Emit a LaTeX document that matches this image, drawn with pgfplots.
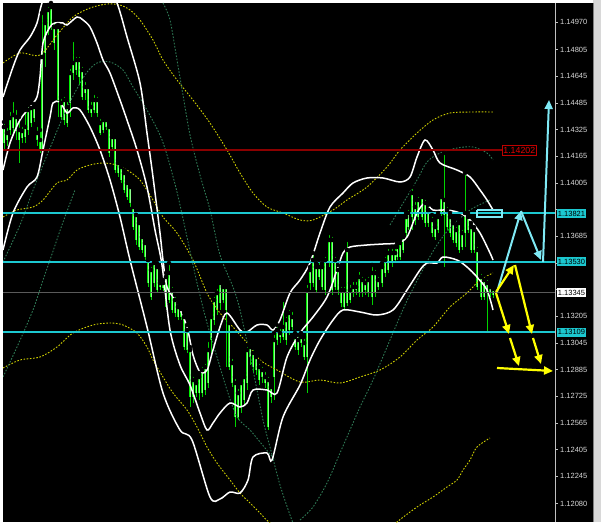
\documentclass[border=0pt]{standalone}
\usepackage{pgfplots}
\pgfplotsset{compat=1.18}
\usepackage{pgfplotstable}
\usepackage{fontspec}
\setmainfont{Liberation Sans}
\usetikzlibrary{arrows.meta}
\definecolor{cyanl}{HTML}{1CC8D0}
\definecolor{arrcyan}{HTML}{7FE9F5}
\definecolor{yel}{HTML}{FFFF00}
\definecolor{dotyel}{HTML}{D0D000}
\definecolor{dotgreen}{HTML}{2F7A55}
\definecolor{redl}{HTML}{8B0000}
\definecolor{redbox}{HTML}{C00000}
\definecolor{grayl}{HTML}{5A5A5A}
\definecolor{axisgray}{HTML}{C0C0C0}
\definecolor{labgray}{HTML}{D8D8D8}
\definecolor{wickc}{HTML}{00D400}
\definecolor{bodyc}{HTML}{00EE00}
\definecolor{bodyin}{HTML}{8CFF8C}
\definecolor{panel}{HTML}{D8D8D8}

\pgfplotstableread{
x h t b l
4 1.14370 1.14340 1.14244 1.14202
7 1.14346 1.14304 1.14262 1.14226
10 1.14442 1.14394 1.14322 1.14292
13 1.14502 1.14412 1.14334 1.14304
16 1.14454 1.14400 1.14316 1.14262
19 1.14400 1.14322 1.14262 1.14124
22 1.14352 1.14316 1.14274 1.14244
25 1.14442 1.14340 1.14280 1.14244
28 1.14472 1.14442 1.14322 1.14292
31 1.14484 1.14454 1.14364 1.14340
34 1.14478 1.14460 1.14394 1.14370
37 1.14352 1.14304 1.14262 1.14226
40 1.14322 1.14262 1.14202 1.14184
42 1.15024 1.14760 1.14202 1.14190
45 1.14982 1.14964 1.14784 1.14700
48 1.15072 1.15042 1.14922 1.14892
51 1.15084 1.15060 1.14940 1.14922
54 1.14982 1.14940 1.14844 1.14802
58 1.14952 1.14940 1.14502 1.14400
61 1.14520 1.14484 1.14400 1.14382
64 1.14532 1.14502 1.14382 1.14352
67 1.14502 1.14460 1.14364 1.14340
70 1.14700 1.14664 1.14484 1.14400
73 1.14862 1.14724 1.14664 1.14622
76 1.14772 1.14742 1.14682 1.14652
79 1.14772 1.14742 1.14640 1.14592
82 1.14712 1.14682 1.14520 1.14502
85 1.14622 1.14580 1.14544 1.14502
88 1.14604 1.14580 1.14442 1.14424
91 1.14502 1.14460 1.14424 1.14400
94 1.14544 1.14502 1.14442 1.14424
97 1.14532 1.14502 1.14424 1.14400
100 1.14400 1.14364 1.14304 1.14292
103 1.14406 1.14382 1.14322 1.14304
106 1.14400 1.14382 1.14340 1.14322
109 1.14364 1.14340 1.14184 1.14160
112 1.14304 1.14280 1.14220 1.14202
115 1.14304 1.14280 1.14082 1.14064
118 1.14142 1.14124 1.14064 1.14040
121 1.14124 1.14100 1.14022 1.14004
124 1.14082 1.14064 1.13962 1.13944
127 1.14022 1.14004 1.13920 1.13902
130 1.14004 1.13980 1.13884 1.13860
133 1.13884 1.13860 1.13740 1.13722
136 1.13842 1.13812 1.13662 1.13632
139 1.13782 1.13764 1.13620 1.13602
142 1.13704 1.13680 1.13602 1.13584
145 1.13662 1.13644 1.13560 1.13542
148 1.13560 1.13542 1.13404 1.13380
151 1.13512 1.13482 1.13320 1.13302
154 1.13542 1.13524 1.13404 1.13380
157 1.13524 1.13500 1.13362 1.13344
160 1.13422 1.13404 1.13380 1.13362
163 1.13422 1.13404 1.13374 1.13356
166 1.13464 1.13440 1.13260 1.13242
169 1.13524 1.13464 1.13302 1.13284
172 1.13392 1.13362 1.13242 1.13224
175 1.13332 1.13302 1.13224 1.13200
178 1.13284 1.13260 1.13200 1.13182
181 1.13272 1.13248 1.13200 1.13182
184 1.13224 1.13200 1.13020 1.13002
187 1.13152 1.13122 1.13002 1.12984
190 1.13020 1.13002 1.12720 1.12660
193 1.12852 1.12822 1.12720 1.12684
196 1.12822 1.12804 1.12744 1.12720
199 1.12864 1.12840 1.12744 1.12702
202 1.12912 1.12882 1.12744 1.12720
205 1.12930 1.12900 1.12762 1.12732
208 1.13062 1.13002 1.12804 1.12774
211 1.13224 1.13200 1.13062 1.12972
214 1.13332 1.13302 1.13182 1.13152
217 1.13380 1.13344 1.13242 1.13212
220 1.13422 1.13404 1.13284 1.13242
223 1.13404 1.13380 1.13302 1.13284
226 1.13404 1.13380 1.13242 1.12900
229 1.13182 1.13164 1.12900 1.12882
232 1.12960 1.12924 1.12804 1.12780
235 1.12840 1.12804 1.12600 1.12540
238 1.12780 1.12744 1.12600 1.12582
241 1.12822 1.12804 1.12660 1.12624
244 1.12864 1.12840 1.12702 1.12672
247 1.13032 1.13002 1.12804 1.12762
250 1.13044 1.13020 1.12960 1.12912
253 1.13014 1.12984 1.12900 1.12870
256 1.12984 1.12960 1.12882 1.12852
259 1.12930 1.12900 1.12822 1.12792
262 1.12912 1.12882 1.12840 1.12804
265 1.12882 1.12840 1.12804 1.12774
268 1.12852 1.12822 1.12540 1.12522
271 1.12804 1.12780 1.12720 1.12684
274 1.13104 1.13062 1.12840 1.12702
277 1.13152 1.13122 1.13062 1.13032
280 1.13140 1.13104 1.13080 1.13044
283 1.13302 1.13140 1.13080 1.13062
286 1.13212 1.13182 1.13062 1.13032
289 1.13254 1.13224 1.13122 1.13092
292 1.13242 1.13200 1.13140 1.13122
295 1.13104 1.13080 1.13020 1.13002
298 1.13092 1.13062 1.13002 1.12972
301 1.13104 1.13080 1.13044 1.13020
304 1.13080 1.13044 1.12960 1.12942
307 1.13404 1.13362 1.12960 1.12744
310 1.13500 1.13482 1.13404 1.13362
313 1.13584 1.13542 1.13404 1.13380
316 1.13524 1.13500 1.13362 1.13344
319 1.13542 1.13500 1.13440 1.13422
322 1.13524 1.13500 1.13380 1.13362
325 1.13572 1.13542 1.13362 1.13332
329 1.13704 1.13662 1.13524 1.13500
332 1.13692 1.13662 1.13362 1.13332
335 1.13572 1.13542 1.13380 1.13362
338 1.13512 1.13482 1.13362 1.13332
341 1.13392 1.13362 1.13284 1.13260
344 1.13392 1.13362 1.13260 1.13242
347 1.13662 1.13602 1.13284 1.13266
350 1.13404 1.13362 1.13302 1.13284
353 1.13422 1.13380 1.13344 1.13320
356 1.13422 1.13380 1.13362 1.13332
359 1.13482 1.13440 1.13344 1.13320
362 1.13452 1.13422 1.13344 1.13320
365 1.13440 1.13404 1.13362 1.13332
368 1.13452 1.13422 1.13344 1.13320
372 1.13512 1.13464 1.13320 1.13272
375 1.13494 1.13464 1.13344 1.13320
378 1.13452 1.13422 1.13380 1.13362
382 1.13524 1.13500 1.13404 1.13380
385 1.13572 1.13542 1.13464 1.13440
388 1.13620 1.13584 1.13482 1.13464
392 1.13620 1.13584 1.13524 1.13500
395 1.13620 1.13584 1.13542 1.13524
397 1.13644 1.13620 1.13560 1.13542
400 1.13662 1.13644 1.13560 1.13542
403 1.13704 1.13680 1.13602 1.13584
406 1.13824 1.13800 1.13704 1.13680
408 1.13854 1.13824 1.13740 1.13722
412 1.13980 1.13944 1.13800 1.13722
415 1.13902 1.13860 1.13782 1.13752
418 1.13932 1.13902 1.13800 1.13782
422 1.13944 1.13920 1.13800 1.13782
425 1.13914 1.13884 1.13764 1.13740
428 1.13872 1.13842 1.13764 1.13740
432 1.13812 1.13782 1.13704 1.13680
435 1.13764 1.13740 1.13680 1.13662
438 1.13824 1.13800 1.13722 1.13704
441 1.13944 1.13920 1.13824 1.13806
444 1.14184 1.13902 1.13812 1.13500
447 1.13872 1.13842 1.13740 1.13722
450 1.13824 1.13800 1.13704 1.13680
453 1.13782 1.13764 1.13662 1.13644
456 1.13752 1.13722 1.13644 1.13620
459 1.13782 1.13764 1.13602 1.13584
462 1.13734 1.13704 1.13620 1.13602
465 1.14064 1.13824 1.13704 1.13620
468 1.13824 1.13800 1.13722 1.13704
471 1.13764 1.13740 1.13602 1.13584
474 1.13740 1.13722 1.13602 1.13584
477 1.13632 1.13602 1.13380 1.13362
481 1.13470 1.13440 1.13320 1.13302
484 1.13452 1.13422 1.13320 1.13302
487 1.13434 1.13404 1.13344 1.13104
490 1.13404 1.13380 1.13344 1.13320
493 1.13392 1.13368 1.13332 1.13314
}\candles

\begin{document}
\begin{tikzpicture}[x=1pt,y=1pt]
\useasboundingbox (-3,-3) rectangle (598,522);
\fill[white] (-3,-3) rectangle (598,522);
\fill[black] (0,0) rectangle (590,519);
\fill[panel] (590,0) rectangle (598,522);
\draw[gray, line width=1pt] (590.5,0) -- (590.5,519);
\begin{axis}[
  at={(0,0)}, anchor=south west,
  scale only axis, width=552pt, height=519pt,
  xmin=3, xmax=555, ymin=1.11970, ymax=1.15084,
  axis background/.style={fill=black},
  axis x line=none, axis y line=right,
  y axis line style={draw=axisgray, line width=0.8pt, -},
  scaled y ticks=false,
  ytick={1.12080,1.12245,1.12405,1.12565,1.12725,1.12885,1.13045,1.13205,1.13365,1.13525,1.13685,1.13845,1.14005,1.14165,1.14325,1.14485,1.14645,1.14805,1.14970},
  yticklabels={1.12080,1.12245,1.12405,1.12565,1.12725,1.12885,1.13045,1.13205,{},{},1.13685,{},1.14005,1.14165,1.14325,1.14485,1.14645,1.14805,1.14970},
  tick style={draw=axisgray, line width=0.6pt},
  major tick length=3pt, tick align=outside,
  yticklabel style={font=\fontsize{7.5}{9}\selectfont, text=labgray, inner sep=0pt, xshift=2pt, anchor=west},
]
% candles: wicks
\addplot[only marks, mark=none, forget plot,
  error bars/.cd, y dir=minus, y explicit, error mark=none,
  error bar style={line width=1pt, draw=wickc}]
  table[x=x, y=h, y error minus expr=\thisrow{h}-\thisrow{l}] {\candles};
% bodies
\addplot[only marks, mark=none, forget plot,
  error bars/.cd, y dir=minus, y explicit, error mark=none,
  error bar style={line width=2.8pt, draw=bodyc}]
  table[x=x, y=t, y error minus expr=\thisrow{t}-\thisrow{b}] {\candles};
\addplot[only marks, mark=none, forget plot,
  error bars/.cd, y dir=minus, y explicit, error mark=none,
  error bar style={line width=1pt, draw=bodyin}]
  table[x=x, y=t, y error minus expr=\thisrow{t}-\thisrow{b}] {\candles};

% dotted yellow envelopes
\addplot[dotyel, line width=0.9pt, dash pattern=on 1.6pt off 1.6pt, smooth, tension=0.5] coordinates {
(3,1.14724)(20,1.14784)(40,1.14772)(57,1.14892)(73,1.15000)(90,1.15054)(107,1.15078)(120,1.15072)(130,1.15042)(140,1.14982)(153,1.14862)(163,1.14742)(177,1.14622)(193,1.14502)(210,1.14364)(227,1.14202)(240,1.14064)(253,1.13944)(267,1.13860)(283,1.13824)(300,1.13782)(313,1.13782)(333,1.13842)(347,1.13902)(367,1.13980)(387,1.14100)(400,1.14202)(417,1.14304)(433,1.14382)(450,1.14424)(473,1.14430)(493,1.14430)};
\addplot[dotyel, line width=0.9pt, dash pattern=on 1.6pt off 1.6pt, smooth, tension=0.5] coordinates {
(3,1.13800)(17,1.13842)(33,1.13860)(43,1.13902)(57,1.14004)(67,1.14022)(77,1.14082)(90,1.14112)(103,1.14124)(117,1.14112)(127,1.14082)(140,1.14022)(153,1.13902)(163,1.13800)(177,1.13704)(193,1.13542)(207,1.13344)(220,1.13224)(233,1.13140)(247,1.13044)(260,1.12942)(277,1.12882)(300,1.12810)(320,1.12822)(340,1.12804)(360,1.12840)(380,1.12882)(400,1.12960)(417,1.13062)(433,1.13140)(450,1.13260)(467,1.13344)(480,1.13422)(493,1.13464)};
\addplot[dotyel, line width=0.9pt, dash pattern=on 1.6pt off 1.6pt, smooth, tension=0.5] coordinates {
(3,1.12894)(20,1.12942)(40,1.12960)(57,1.13020)(73,1.13104)(93,1.13152)(110,1.13164)(123,1.13152)(137,1.13104)(147,1.13020)(153,1.12942)(163,1.12840)(173,1.12744)(187,1.12642)(197,1.12540)(207,1.12420)(217,1.12324)(230,1.12222)(240,1.12144)(250,1.12084)(260,1.12024)(270,1.11964)(300,1.11832)(350,1.11772)(390,1.11922)(397,1.11970)(417,1.12060)(433,1.12120)(447,1.12180)(457,1.12222)(463,1.12282)(470,1.12342)(477,1.12420)(490,1.12474)};
% dotted green lines
\addplot[dotgreen, line width=0.9pt, dash pattern=on 1.6pt off 1.6pt, smooth, tension=0.5] coordinates {
(163,1.15084)(170,1.14982)(177,1.14742)(183,1.14532)(190,1.14292)(200,1.14052)(210,1.13842)(220,1.13572)(233,1.13380)(240,1.13242)(253,1.12882)(263,1.12582)(270,1.12420)(280,1.12192)(290,1.12012)(295,1.11934)};
\addplot[dotgreen, line width=0.9pt, dash pattern=on 1.6pt off 1.6pt, smooth, tension=0.5] coordinates {
(3,1.13530)(20,1.13752)(35,1.13992)(50,1.14214)(67,1.14454)(85,1.14652)(97,1.14724)(110,1.14730)(123,1.14682)(133,1.14580)(147,1.14442)(160,1.14292)(167,1.14172)(177,1.13950)(187,1.13680)(197,1.13404)(207,1.13164)(217,1.12960)(227,1.12762)(237,1.12600)(250,1.12522)(260,1.12450)(275,1.12342)};
\addplot[dotgreen, line width=0.9pt, dash pattern=on 1.6pt off 1.6pt, smooth, tension=0.5] coordinates {
(300,1.11982)(313,1.12060)(327,1.12204)(340,1.12384)(350,1.12522)(360,1.12660)(373,1.12822)(390,1.13062)(405,1.13272)(420,1.13452)(435,1.13614)(450,1.13734)(470,1.13842)(490,1.13902)};
\addplot[dotgreen, line width=0.9pt, dash pattern=on 1.6pt off 1.6pt, smooth, tension=0.5] coordinates {
(3,1.12840)(17,1.13020)(33,1.13242)(43,1.13422)(50,1.13542)(62,1.13752)(75,1.13962)};
\addplot[dotgreen, line width=0.9pt, dash pattern=on 1.6pt off 1.6pt, smooth, tension=0.5] coordinates {
(390,1.13752)(405,1.13902)(417,1.14022)(427,1.14130)(440,1.14184)(457,1.14214)(473,1.14220)(487,1.14184)(493,1.14142)};

% white bands
\addplot[white, line width=1.5pt, smooth, tension=0.5] coordinates {
(3,1.14520)(13,1.14700)(20,1.14802)(30,1.14880)(37,1.14964)(42,1.15084)(55,1.15282)(80,1.15402)(100,1.15312)(117,1.15084)(127,1.14880)(140,1.14604)(147,1.14304)(153,1.14040)(160,1.13704)(163,1.13542)(167,1.13380)(177,1.13284)(187,1.13140)(193,1.12972)(200,1.12870)(207,1.12882)(213,1.13002)(220,1.13140)(227,1.13224)(240,1.13122)(247,1.13110)(257,1.13152)(267,1.13152)(273,1.13122)(280,1.13182)(290,1.13344)(300,1.13422)(310,1.13524)(320,1.13704)(330,1.13860)(343,1.13944)(353,1.14004)(367,1.14034)(383,1.14034)(400,1.14010)(410,1.14040)(417,1.14160)(425,1.14262)(433,1.14202)(440,1.14124)(457,1.14082)(470,1.14040)(480,1.13962)(487,1.13902)(493,1.13842)};
\addplot[white, line width=1.5pt, smooth, tension=0.5] coordinates {
(3,1.14082)(10,1.14244)(20,1.14382)(30,1.14460)(37,1.14520)(40,1.14640)(43,1.14844)(50,1.14940)(55,1.14964)(63,1.14964)(67,1.14952)(77,1.15000)(83,1.14982)(90,1.14940)(97,1.14844)(103,1.14742)(110,1.14664)(120,1.14502)(127,1.14382)(137,1.14202)(147,1.13980)(155,1.13722)(162,1.13512)(170,1.13122)(180,1.12912)(190,1.12792)(200,1.12624)(207,1.12522)(213,1.12564)(220,1.12624)(230,1.12684)(240,1.12660)(247,1.12684)(253,1.12762)(267,1.12762)(277,1.12744)(287,1.12960)(300,1.13104)(313,1.13200)(327,1.13320)(337,1.13482)(343,1.13584)(350,1.13620)(367,1.13632)(383,1.13638)(397,1.13644)(407,1.13680)(417,1.13824)(425,1.13884)(433,1.13842)(447,1.13842)(460,1.13824)(470,1.13782)(480,1.13704)(490,1.13584)(493,1.13542)};
\addplot[white, line width=1.5pt, smooth, tension=0.5] coordinates {
(3,1.13602)(13,1.13824)(27,1.13980)(37,1.14040)(43,1.14202)(50,1.14400)(53,1.14484)(60,1.14490)(67,1.14424)(73,1.14454)(80,1.14442)(90,1.14340)(100,1.14202)(110,1.14022)(120,1.13800)(130,1.13542)(147,1.13140)(163,1.12744)(180,1.12522)(192,1.12462)(210,1.12120)(220,1.12108)(230,1.12150)(240,1.12144)(248,1.12222)(253,1.12360)(267,1.12384)(272,1.12342)(283,1.12600)(300,1.12792)(310,1.12942)(320,1.13062)(333,1.13182)(343,1.13242)(360,1.13230)(377,1.13212)(393,1.13242)(407,1.13362)(420,1.13482)(427,1.13524)(437,1.13524)(443,1.13560)(457,1.13542)(467,1.13500)(477,1.13440)(487,1.13362)(493,1.13242)};

% horizontal levels
\addplot[draw=redl, line width=1.6pt] coordinates {(3,1.14202) (503,1.14202)};
\addplot[draw=grayl, line width=1.3pt] coordinates {(3,1.13345) (555,1.13345)};
\addplot[draw=cyanl, line width=1.8pt] coordinates {(3,1.13530) (555,1.13530)};
\addplot[draw=cyanl, line width=1.8pt] coordinates {(3,1.13109) (555,1.13109)};
\addplot[draw=cyanl, line width=2pt] coordinates {(3,1.13821) (555,1.13821)};
\addplot[draw=arrcyan, line width=1.4pt] coordinates {(477,1.13842) (502,1.13842) (502,1.13800) (477,1.13800) (477,1.13842)};

% cyan arrows
\addplot[arrcyan, line width=2pt, -{Triangle[length=9pt,width=8pt]}] coordinates {(497,1.13350) (521,1.13836)};
\addplot[arrcyan, line width=2pt, -{Triangle[length=9pt,width=8pt]}] coordinates {(521,1.13836) (541,1.13542)};
\addplot[arrcyan, line width=2pt, -{Triangle[length=9pt,width=8pt]}] coordinates {(543,1.13530) (549,1.14502)};
% yellow arrows
\addplot[yel, line width=2.2pt, -{Triangle[length=9pt,width=8pt]}] coordinates {(496,1.13350) (514,1.13512)};
\addplot[yel, line width=2.2pt, -{Triangle[length=9pt,width=8pt]}] coordinates {(515,1.13512) (532,1.13098)};
\addplot[yel, line width=2.2pt, -{Triangle[length=9pt,width=8pt]}] coordinates {(533,1.13074) (541,1.12918)};
\addplot[yel, line width=2.2pt, -{Triangle[length=9pt,width=8pt]}] coordinates {(496,1.13344) (509,1.13098)};
\addplot[yel, line width=2.2pt, -{Triangle[length=9pt,width=8pt]}] coordinates {(510,1.13074) (519,1.12906)};
\addplot[yel, line width=2.2pt, -{Triangle[length=9pt,width=8pt]}] coordinates {(497,1.12894) (553,1.12876)};

\coordinate (r1) at (axis cs:502,1.14202);
\coordinate (c1) at (axis cs:555,1.13821);
\coordinate (c2) at (axis cs:555,1.13530);
\coordinate (c3) at (axis cs:555,1.13345);
\coordinate (c4) at (axis cs:555,1.13109);
\end{axis}
\tikzset{lab/.style={anchor=west, inner xsep=1.2pt, inner ysep=0.8pt, font=\fontsize{7.5}{9}\selectfont, minimum height=9pt}}
\node[lab, fill=black, draw=redbox, line width=0.8pt, text=red!90!black, font=\fontsize{8.8}{10}\selectfont, inner xsep=1pt, minimum height=10pt] at (r1) {1.14202};
\node[lab, fill=cyanl, text=black] at ([xshift=1.5pt]c1) {1.13821};
\node[lab, fill=cyanl, text=black] at ([xshift=1.5pt]c2) {1.13530};
\node[lab, fill=white, text=black] at ([xshift=1.5pt]c3) {1.13345};
\node[lab, fill=cyanl, text=black] at ([xshift=1.5pt]c4) {1.13109};
\end{tikzpicture}
\end{document}
